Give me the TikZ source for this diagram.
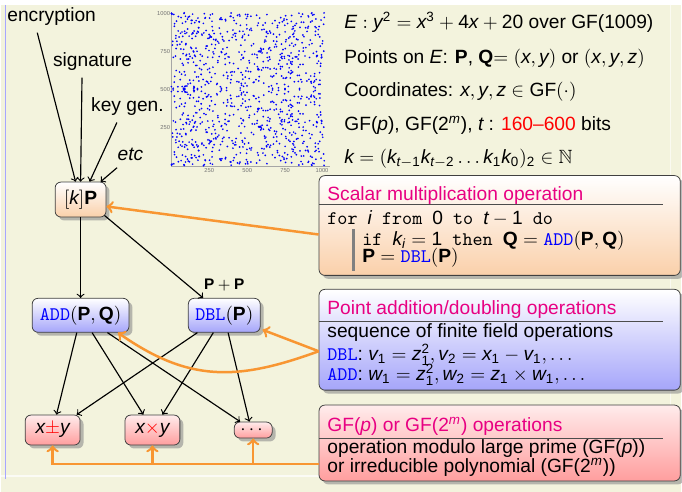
\documentclass[tikz,border=0pt]{standalone}
\usepackage{amsmath}
\usepackage{amssymb}
\usepackage{fontspec}
\setmainfont{Liberation Sans}
% sans serif letters and digits in math
\newfontfamily\sansmathfam{Liberation Sans}[NFSSFamily=libsansmath]
\DeclareSymbolFont{sansit}{TU}{libsansmath}{m}{it}
\DeclareSymbolFont{sansup}{TU}{libsansmath}{m}{n}
\newcount\mathcharidx
\newcommand{\sansmathrange}[3]{%
  \mathcharidx=`#1
  \loop\mathcode\mathcharidx=\numexpr"7000+#3*"100+\mathcharidx\relax
    \ifnum\mathcharidx<`#2 \advance\mathcharidx by 1 \repeat}
\newcommand{\sansmathcodes}{%
  \sansmathrange{a}{z}{\symsansit}%
  \sansmathrange{A}{Z}{\symsansit}%
  \sansmathrange{0}{9}{\symsansup}}
\sansmathcodes
\AtBeginDocument{\sansmathcodes}
\usetikzlibrary{positioning,shadows}
\definecolor{slidebg}{RGB}{243,243,221}
\definecolor{peach}{RGB}{250,208,170}
\definecolor{lavender}{RGB}{165,165,250}
\definecolor{rosered}{RGB}{255,158,158}
\definecolor{titlepink}{RGB}{232,0,130}
\definecolor{linkorange}{RGB}{248,150,50}
\definecolor{opblue}{RGB}{0,0,255}
\definecolor{dotblue}{RGB}{0,0,255}

\newcommand{\pxu}{0.52pt}
\newcommand{\addop}{\textcolor{opblue}{\texttt{ADD}}}
\newcommand{\dblop}{\textcolor{opblue}{\texttt{DBL}}}
% residue mod 1009, rounding of \numexpr taken care of
\def\curvemod#1{\numexpr(#1)-1009*(((#1)-504)/1009)\relax}

\tikzset{
  opnode/.style={draw=black!75, rounded corners=3pt, inner sep=2pt,
    drop shadow={shadow xshift=1.8pt, shadow yshift=-1.8pt, fill=black!45, opacity=0.6}},
  scalarop/.style={opnode, top color=white, bottom color=peach},
  pointop/.style={opnode, top color=white, bottom color=lavender},
  fieldop/.style={opnode, top color=rosered!20, bottom color=rosered},
  flow/.style={->, semithick},
  feed/.style={->, line width=1.3pt, linkorange},
  boxtitle/.style={anchor=base west, inner sep=0pt, text=titlepink},
  boxtext/.style={anchor=base west, inner sep=0pt},
  infotext/.style={anchor=base west, inner sep=0pt},
  ticklbl/.style={font=\fontsize{3}{3}\selectfont, text=black!55, inner sep=0.5pt},
  headrule/.style={black!70, line width=0.5pt},
}

\begin{document}
\begin{tikzpicture}[x=0.52pt,y=-0.52pt]
  % slide background
  \fill[slidebg] (0,0) rectangle (682,493);
  \fill[white] (0,0) rectangle (682,5);
  \draw[white!70!slidebg, line width=0.8pt] (0,477) -- (682,477);
  \draw[white!60!slidebg, line width=0.8pt] (671,5) -- (671,477);
  \draw[blue!35, line width=0.6pt] (4.5,5) -- (4.5,480);
  \useasboundingbox (0,0) rectangle (682,493);

  % points of E over GF(1009)
  \draw[black!35, line width=0.3pt] (171,12) -- (171,167) -- (330,167);
  \foreach \v/\p in {250/128,500/90,750/52,1000/14}
    \node[ticklbl, anchor=east] (ytick\v) at (171,\p) {\v};
  \foreach \v/\p in {250/209,500/247,750/285,1000/322}
    \node[ticklbl, anchor=north] (xtick\v) at (\p,168) {\v};
  \foreach \yy in {0,...,504}{%
    \edef\sqv{\the\curvemod{\yy*\yy}}%
    \expandafter\xdef\csname sqroot@\sqv\endcsname{\yy}}
  \foreach \xx in {0,...,1008}{%
    \edef\sqx{\the\curvemod{\xx*\xx}}%
    \edef\cubx{\the\curvemod{\sqx*\xx}}%
    \edef\crhs{\the\curvemod{\cubx+4*\xx+20}}%
    \ifcsname sqroot@\crhs\endcsname
      \edef\rooty{\csname sqroot@\crhs\endcsname}%
      \fill[dotblue] ({171+0.152*\xx},{166-0.152*\rooty}) circle (0.5pt);
      \ifnum\rooty>0
        \fill[dotblue] ({171+0.152*\xx},{166-0.152*(1009-\rooty)}) circle (0.5pt);
      \fi
    \fi}

  % curve facts
  \node[infotext] (curveeq) at (344,29) {$E: y^2=x^3+4x+20$ over GF(1009)};
  \node[infotext] (points) at (344,64) {Points on $E$: $\mathbf{P}$, $\mathbf{Q}$$=(x,y)$ or $(x,y,z)$};
  \node[infotext] (coords) at (344,97) {Coordinates: $x,y,z\in$ GF$(\cdot)$};
  \node[infotext] (sizes) at (344,131) {GF($p$), GF($2^m$), $t$ : \textcolor{red}{160--600} bits};
  \node[infotext] (scalar) at (344,164) {$k=(k_{t-1}k_{t-2}\ldots k_1k_0)_2\in\mathbb{N}$};

  % applications
  \node (encr) at (51,17) {encryption};
  \node (sign) at (92,62) {signature};
  \node (keygen) at (127,107) {key gen.};
  \node[font=\itshape] (etc) at (130,155) {etc};

  % operation tree
  \node[scalarop, minimum width=51*\pxu, minimum height=35*\pxu] (kP) at (80,200) {$[k]\mathbf{P}$};
  \node[pointop, minimum width=97*\pxu, minimum height=34*\pxu] (add) at (80,316) {\addop$(\mathbf{P},\mathbf{Q})$};
  \node[pointop, minimum width=72*\pxu, minimum height=34*\pxu] (dbl) at (224,316) {\dblop$(\mathbf{P})$};
  \node[font=\footnotesize, above=0pt of dbl] (dblnote) {$\mathbf{P}+\mathbf{P}$};
  \node[fieldop, minimum width=55*\pxu, minimum height=30*\pxu] (xpm) at (52,431) {$x\textcolor{red}{\pm}y$};
  \node[fieldop, minimum width=55*\pxu, minimum height=30*\pxu] (xtm) at (152,431) {$x\textcolor{red}{\times}y$};
  \node[fieldop, minimum width=38*\pxu, minimum height=16*\pxu, inner sep=0.5pt] (more) at (253,431) {$\cdots$};

  \draw[flow] ([xshift=-7.5pt]encr.south) -- ([xshift=-2.6pt]kP.north);
  \draw[flow] ([xshift=-5.5pt]sign.south) -- (kP.north);
  \draw[flow] ([xshift=-5.5pt]keygen.south) -- ([xshift=4.7pt]kP.north);
  \draw[flow] ([xshift=-7pt]etc.south) -- ([xshift=-3pt]kP.north east);
  \draw[flow] (kP) -- (add);
  \draw[flow] ([shift={(-1pt,1pt)}]kP.south east) -- ([xshift=-11pt]dbl.north);
  \draw[flow] ([xshift=-2pt]add.south) -- ([xshift=2pt]xpm.north);
  \draw[flow] ([xshift=6pt]add.south) -- ([xshift=-4.7pt]xtm.north);
  \draw[flow] ([xshift=14pt]add.south) -- ([xshift=-6.8pt]more.north);
  \draw[flow] ([xshift=-14pt]dbl.south) -- ([xshift=12.5pt]xpm.north);
  \draw[flow] ([xshift=-5.7pt]dbl.south) -- ([xshift=5.2pt]xtm.north);
  \draw[flow] ([xshift=2pt]dbl.south) -- ([xshift=-2pt]more.north);

  % explanation boxes
  \node[scalarop, minimum width=362*\pxu, minimum height=100*\pxu] (scal) at (500,226) {};
  \node[boxtitle] (scalhead) at (327,201) {Scalar multiplication operation};
  \draw[headrule] (319,205) -- (664,205);
  \node[boxtext] (scalfor) at (327,225) {\texttt{for }$i$\texttt{ from }$0$\texttt{ to }$t-1$\texttt{ do}};
  \fill[black!50] (352,230) rectangle (355,272);
  \node[boxtext] (scalif) at (362,246) {\texttt{if }$k_i=1$\texttt{ then }$\mathbf{Q}=\addop(\mathbf{P},\mathbf{Q})$};
  \node[boxtext] (scaldbl) at (362,263) {$\mathbf{P}=\dblop(\mathbf{P})$};

  \node[pointop, minimum width=362*\pxu, minimum height=101*\pxu] (ptops) at (500,340.5) {};
  \node[boxtitle] (pthead) at (327,315) {Point addition/doubling operations};
  \draw[headrule] (319,322) -- (664,322);
  \node[boxtext] (ptseq) at (327,338) {sequence of finite field operations};
  \node[boxtext] (ptdbl) at (327,361) {\dblop: $v_1=z_1^2, v_2=x_1-v_1,\ldots$};
  \node[boxtext] (ptadd) at (327,381) {\addop: $w_1=z_1^2, w_2=z_1\times w_1,\ldots$};

  \node[fieldop, minimum width=362*\pxu, minimum height=76*\pxu] (gfops) at (500,444) {};
  \node[boxtitle] (gfhead) at (327,432) {GF($p$) or GF($2^m$) operations};
  \draw[headrule] (319,439) -- (664,439);
  \node[boxtext] (gfprime) at (327,455) {operation modulo large prime (GF($p$))};
  \node[boxtext] (gfpoly) at (327,474) {or irreducible polynomial (GF($2^m$))};

  % links to the boxes
  \draw[feed] ([yshift=-4.7pt]scal.west) -- ([yshift=-3.6pt]kP.east);
  \coordinate (ptfoot) at ([yshift=-6pt]ptops.west);
  \draw[feed] (ptfoot) -- ([shift={(1pt,1.5pt)}]dbl.south east);
  \draw[feed] (ptfoot) to[out=200, in=-35, looseness=1.1] ([xshift=-6pt]add.south east);
  \coordinate (gffoot) at ([yshift=-10.9pt]gfops.west);
  \draw[feed] (gffoot) -| (xpm.south);
  \draw[feed] (gffoot -| xtm.south) -- (xtm.south);
  \draw[feed] (gffoot -| more.south) -- (more.south);
\end{tikzpicture}
\end{document}
